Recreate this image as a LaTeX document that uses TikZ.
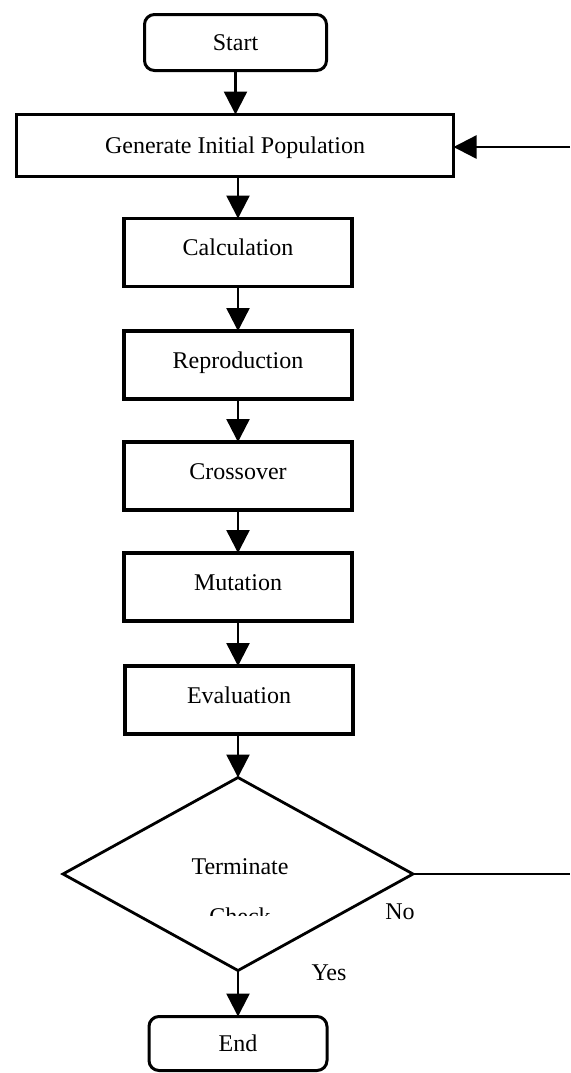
\documentclass[tikz,border=0pt]{standalone}
\usepackage{fontspec}
\setmainfont{Liberation Serif}
\usetikzlibrary{shapes.geometric,arrows.meta}
\begin{document}
\begin{tikzpicture}[x=0.5pt,y=-0.5pt,
  every node/.style={font=\fontsize{12pt}{14pt}\selectfont, inner sep=0pt, outer sep=0pt},
  boxbase/.style={draw, line width=1.8pt, rectangle},
  proc/.style={boxbase, minimum width=114pt, minimum height=34pt, text height=8pt, text depth=5pt},
  termbox/.style={boxbase, line width=1.5pt, rounded corners=5pt, text height=8pt, text depth=0pt},
  flow/.style={line width=1.2pt, -{Triangle[length=11.5pt,width=11.5pt]}},
  plainline/.style={line width=1.4pt}]
\useasboundingbox (0,0) rectangle (570,1073);
\fill[white] (0,0) rectangle (570,1073);

\node[termbox, minimum width=91pt, minimum height=28pt] (start) at (235.5,42.5) {Start};
\node[boxbase, minimum width=218.5pt, minimum height=31pt, text height=8pt, text depth=0pt] (gen) at (235,145.5) {Generate Initial Population};
\node[proc] (calc) at (238,252.5) {Calculation};
\node[proc] (repr) at (238,365) {Reproduction};
\node[proc] (cross) at (238,476) {Crossover};
\node[proc] (mut) at (238,587) {Mutation};
\node[proc] (eval) at (239,700) {Evaluation};
\node[diamond, draw, line width=1.4pt, minimum width=175pt, minimum height=96.5pt] (check) at (238,874) {};
\node (termtxt) at (240,867) {Terminate};
\begin{scope}
  \clip (150,895) rectangle (330,915);
  \node[anchor=base] (chktxt) at (240,924) {Check};
\end{scope}
\node (no) at (400,912) {No};
\node (yes) at (329,973) {Yes};
\node[termbox, minimum width=89pt, minimum height=27pt] (stop) at (238,1043.5) {End};

\coordinate (redge) at (570,874);
\coordinate (inarr) at (570,147);

\draw[flow] (start.south) -- (start.south |- gen.north);
\draw[flow] (calc.north |- gen.south) -- (calc.north);
\draw[flow] (calc.south) -- (calc.south |- repr.north);
\draw[flow] (repr.south) -- (repr.south |- cross.north);
\draw[flow] (cross.south) -- (cross.south |- mut.north);
\draw[flow] (mut.south) -- (mut.south |- eval.north);
\draw[flow] (check.north |- eval.south) -- (check.north);
\draw[flow] (check.south) -- (check.south |- stop.north);
\draw[plainline] (check.east) -- (redge);
\draw[flow] (inarr) -- (inarr -| gen.east);
\end{tikzpicture}
\end{document}
